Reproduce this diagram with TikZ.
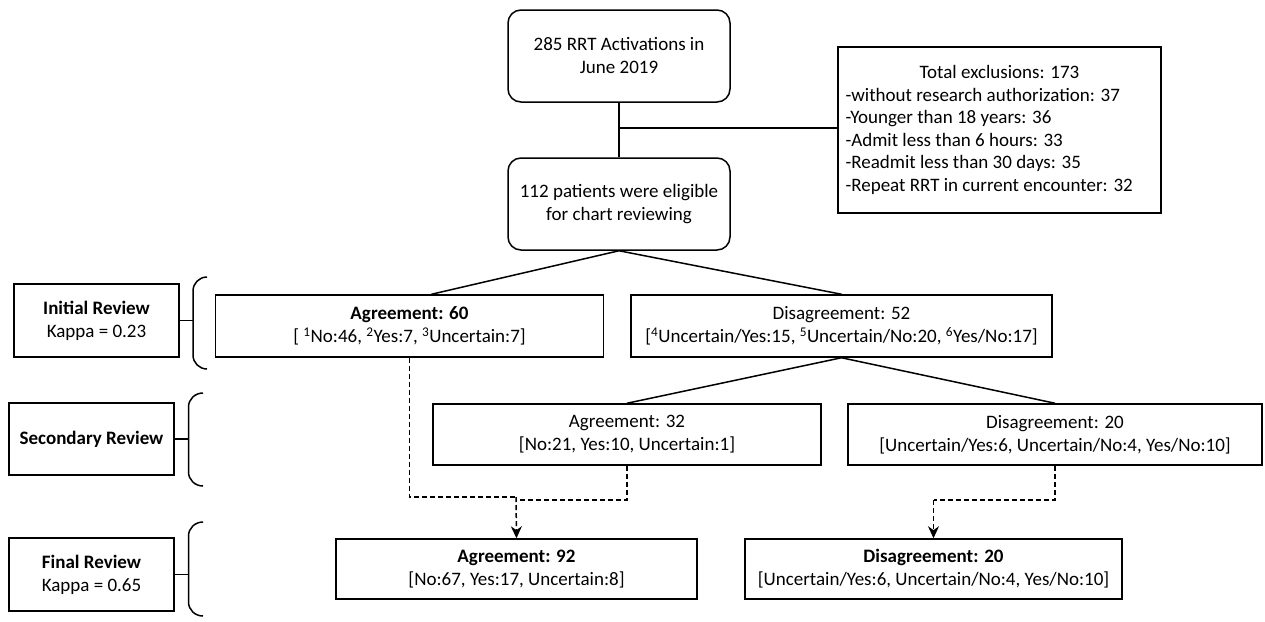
\documentclass[tikz,border=0pt]{standalone}
\usepackage{fontspec}
\setmainfont{Carlito}
\usetikzlibrary{arrows.meta}
\tikzset{
  box/.style={draw, line width=1.5pt, align=center, inner sep=2pt,
    font=\fontsize{19}{23}\selectfont},
  rbox/.style={box, rounded corners=13pt, minimum width=222pt, minimum height=92pt},
  conn/.style={line width=1.5pt},
  dconn/.style={line width=1.5pt, dash pattern=on 5pt off 3pt},
  arr/.style={dconn, -{Stealth[length=12pt,width=11pt]}},
  brace/.style={line width=1.5pt},
}
\begin{document}
\begin{tikzpicture}[x=1pt,y=-1pt]
\useasboundingbox (0,0) rectangle (1265,621);
% top
\node[rbox] (top) at (619,56) {285 RRT Activations in\\June 2019};
\node[rbox] (elig) at (619,204) {112 patients were eligible\\for chart reviewing};
\node[box, minimum width=323pt, minimum height=166pt,
  font=\fontsize{19}{22.5}\selectfont] (excl) at (999.5,130)
 {Total exclusions: 173\\
  \makebox[308pt][l]{-without research authorization: 37}\\
  \makebox[308pt][l]{-Younger than 18 years: 36}\\
  \makebox[308pt][l]{-Admit less than 6 hours: 33}\\
  \makebox[308pt][l]{-Readmit less than 30 days: 35}\\
  \makebox[308pt][l]{-Repeat RRT in current encounter: 32}};
% initial
\node[box, minimum width=388pt, minimum height=62pt] (a60) at (409.5,326)
 {\textbf{Agreement: 60}\\{[} \textsuperscript{1}No:46, \textsuperscript{2}Yes:7, \textsuperscript{3}Uncertain:7]};
\node[box, minimum width=421pt, minimum height=62pt] (d52) at (841.5,326)
 {Disagreement: 52\\{[}\textsuperscript{4}Uncertain/Yes:15, \textsuperscript{5}Uncertain/No:20, \textsuperscript{6}Yes/No:17]};
% secondary
\node[box, minimum width=388pt, minimum height=61pt] (a32) at (627,434.5)
 {Agreement: 32\\{[}No:21, Yes:10, Uncertain:1]};
\node[box, minimum width=414pt, minimum height=61pt] (d20) at (1055,434.5)
 {Disagreement: 20\\{[}Uncertain/Yes:6, Uncertain/No:4, Yes/No:10]};
% final
\node[box, minimum width=361pt, minimum height=60pt] (a92) at (516.5,569)
 {\textbf{Agreement: 92}\\{[}No:67, Yes:17, Uncertain:8]};
\node[box, minimum width=377pt, minimum height=60pt] (d20f) at (933.5,569)
 {\textbf{Disagreement: 20}\\{[}Uncertain/Yes:6, Uncertain/No:4, Yes/No:10]};
% left labels
\node[box, minimum width=165pt, minimum height=73pt] (ir) at (96.5,320.5)
 {\textbf{Initial Review}\\Kappa = 0.23};
\node[box, minimum width=165pt, minimum height=72pt] (sr) at (91.5,439)
 {\textbf{Secondary Review}};
\node[box, minimum width=165pt, minimum height=73pt] (fr) at (91.5,574.5)
 {\textbf{Final Review}\\Kappa = 0.65};
% braces
\coordinate (b1) at (193,320.5);
\coordinate (b2) at (188.5,439);
\coordinate (b3) at (188.5,574.5);
\draw[brace] (207,277) to[out=180,in=90] (193,291) -- (193,355) to[out=-90,in=180] (207,369);
\draw[brace] (203,393) to[out=180,in=90] (188.5,407) -- (188.5,472) to[out=-90,in=180] (203,486);
\draw[brace] (203,522) to[out=180,in=90] (188.5,536) -- (188.5,602) to[out=-90,in=180] (203,616);
\draw[conn] (ir.east) -- (b1);
\draw[conn] (sr.east) -- (b2);
\draw[conn] (fr.east) -- (b3);
% solid connectors
\coordinate (jx) at (619,128);
\draw[conn] (top.south) -- (elig.north);
\draw[conn] (jx) -- (jx -| excl.west);
\draw[conn] (elig.south) -- ([xshift=22pt]a60.north);
\draw[conn] (elig.south) -- (d52.north);
\draw[conn] (d52.south) -- (a32.north);
\draw[conn] (d52.south) -- (d20.north);
% dashed connectors
\coordinate (j0) at (516,497);
\coordinate (j1) at (516,500);
\coordinate (j2) at (933.5,500);
\draw[dconn] (a60.south) |- (j0);
\draw[dconn] (a32.south) |- (j1);
\draw[arr] (j0) -- (a92.north);
\draw[dconn] (d20.south) |- (j2);
\draw[arr] (j2) -- (d20f.north);
\end{tikzpicture}
\end{document}
